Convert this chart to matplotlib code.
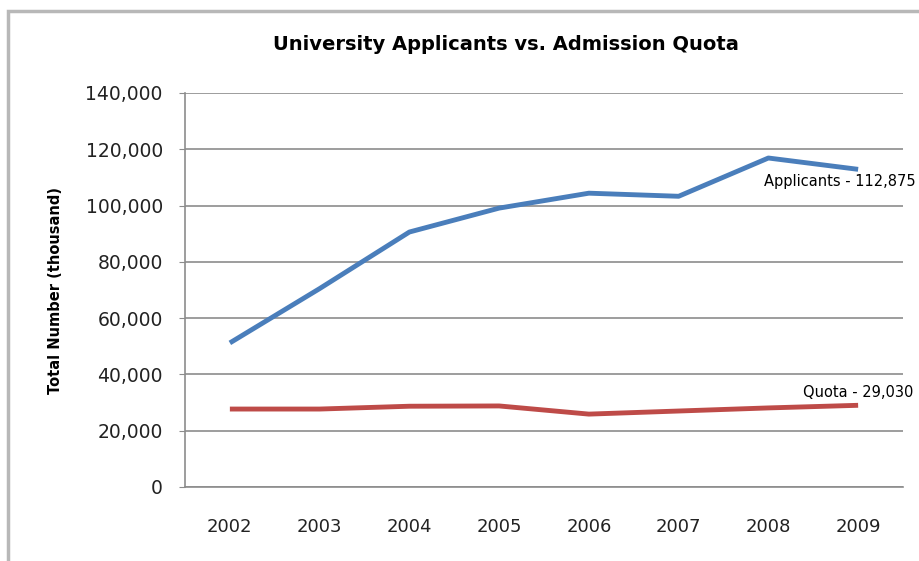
import matplotlib.pyplot as plt
from matplotlib.patches import Rectangle
from matplotlib.ticker import FuncFormatter

years = ['2002', '2003', '2004', '2005', '2006', '2007', '2008', '2009']
applicants = [51200, 70500, 90600, 99100, 104400, 103300, 116900, 112875]
quota = [27700, 27700, 28700, 28800, 25900, 27000, 28100, 29030]

blue = '#4A7EBB'
red = '#BE4B48'

plt.rcParams['font.family'] = ['DejaVu Sans']

fig = plt.figure(figsize=(9.2, 5.61), dpi=100)
ax = fig.add_axes([185 / 920, 1 - 487 / 561, (903 - 185) / 920, (487 - 93) / 561])

# chart border like an Excel chart area
fig.patches.append(Rectangle((8 / 920, -0.1), 1.2, 1 - 11 / 561 + 0.1, transform=fig.transFigure,
                             fill=False, edgecolor='#b8b8b8', linewidth=2.5))

x = list(range(len(years)))
ax.plot(x, applicants, color=blue, linewidth=3.5, solid_capstyle='butt', clip_on=False)
ax.plot(x, quota, color=red, linewidth=3.5, solid_capstyle='butt', clip_on=False)

ax.set_xlim(-0.5, len(years) - 0.5)
ax.set_ylim(0, 140000)
ax.set_yticks(range(0, 140001, 20000))
ax.yaxis.set_major_formatter(FuncFormatter(lambda v, p: '{:,.0f}'.format(v)))
ax.set_xticks(x)
ax.set_xticklabels(years)

ax.grid(axis='y', color='#8c8c8c', linewidth=1.2)
ax.set_axisbelow(True)
for s in ['top', 'right']:
    ax.spines[s].set_visible(False)
for s in ['left', 'bottom']:
    ax.spines[s].set_color('#8c8c8c')
    ax.spines[s].set_linewidth(1.2)
ax.tick_params(axis='y', length=4, color='#8c8c8c', pad=12, labelsize=13.5, labelcolor='#222222')
ax.tick_params(axis='x', length=0, pad=22, labelsize=13, labelcolor='#222222')

ax.set_ylabel('Total Number (thousand)', fontsize=10.5, fontweight='bold')
ax.yaxis.set_label_coords(-122 / 718, 0.5)

fig.text(506 / 920, 1 - 45 / 561, 'University Applicants vs. Admission Quota',
         ha='center', va='center', fontsize=14, fontweight='bold')

# end labels
ax.annotate('Applicants - 112,875', xy=(x[-1], applicants[-1]), xytext=(-68, -9),
            textcoords='offset points', fontsize=10.5, ha='left', va='center', annotation_clip=False)
ax.annotate('Quota - 29,030', xy=(x[-1], quota[-1]), xytext=(-40, 9),
            textcoords='offset points', fontsize=10.5, ha='left', va='center', annotation_clip=False)

fig.savefig('out.png', dpi=100)
